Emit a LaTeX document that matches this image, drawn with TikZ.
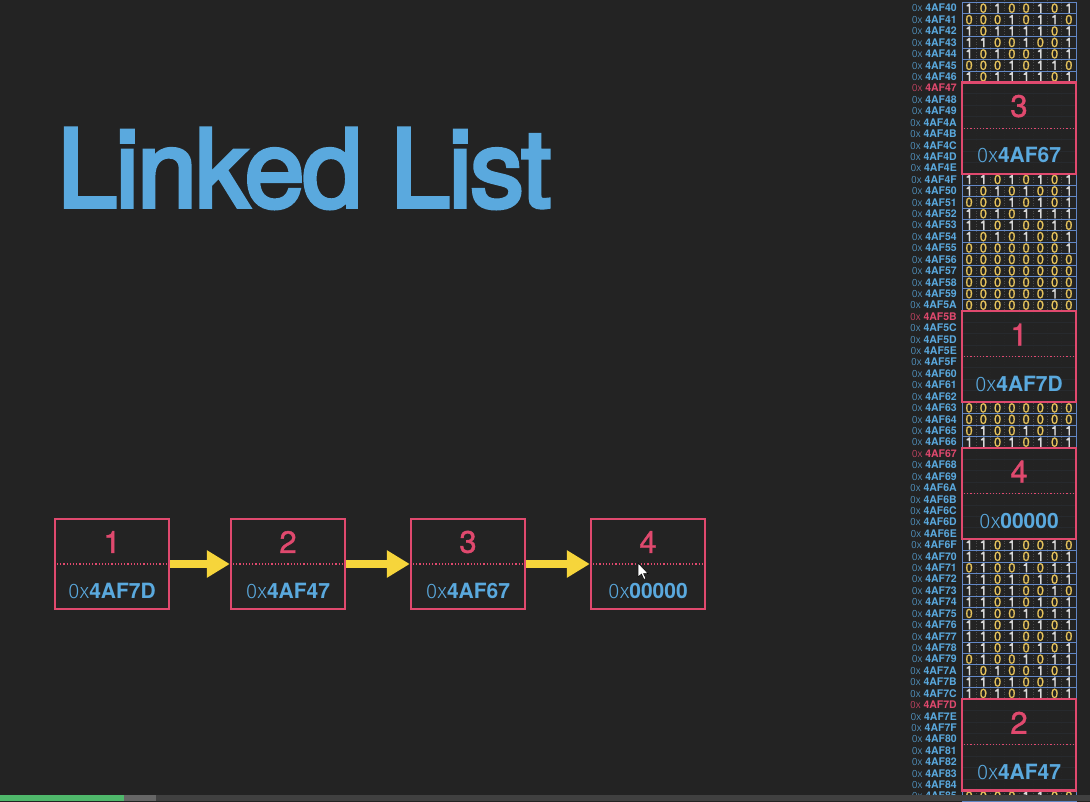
\documentclass[tikz,border=0pt]{standalone}
\usepackage{fontspec}
\setmainfont{TeX Gyre Heros}
\newfontfamily\lightfont{Fira Sans Light}
\newfontfamily\titlefont{TeX Gyre Heros}[LetterSpace=-2,FakeBold=3.5]
\newfontfamily\digitfont{TeX Gyre Heros}[FakeBold=1.2]
\usetikzlibrary{positioning,arrows.meta}

\definecolor{bg}{HTML}{232323}
\definecolor{pink}{HTML}{E0496E}
\definecolor{addrblue}{HTML}{5AA9DE}
\definecolor{arrowyellow}{HTML}{F6D53B}
\definecolor{rowblue}{HTML}{6287C6}
\definecolor{bit1}{HTML}{D9D9D9}
\definecolor{bit0}{HTML}{E6C35C}
\definecolor{lbl0}{HTML}{5AA9DE}
\definecolor{lbl1}{HTML}{E0496E}
\definecolor{bargreen}{HTML}{4FB86B}

\begin{document}
\begin{tikzpicture}[x=1pt,y=-1pt,
    cell/.style={draw=pink,line width=2.4pt,minimum width=114pt,minimum height=90pt,inner sep=0pt},
    digit/.style={text=pink,inner sep=0pt,font=\digitfont\fontsize{31}{31}\selectfont},
    addr/.style={text=addrblue,inner sep=0pt,font=\fontsize{21}{21}\selectfont},
    divider/.style={pink,dotted,line width=1.2pt},
    link/.style={arrowyellow,line width=8pt,-{Triangle[length=23pt,width=26pt]}},
    memlabel/.style={anchor=east,inner sep=0pt,font=\fontsize{10.5}{10.5}\selectfont},
    bitnum/.style={inner sep=0pt,font=\digitfont\fontsize{13}{13}\selectfont},
    rowline/.style={draw=rowblue,line width=0.9pt},
    sep/.style={gray!45!bg,dotted,line width=0.6pt}]
      \useasboundingbox (0,0) rectangle (1090,802);
      \clip (0,0) rectangle (1090,802);
      \fill[bg] (0,0) rectangle (1090,802);

      % title
      \node[anchor=base west,inner sep=0pt,text=addrblue,font=\titlefont\fontsize{108}{108}\selectfont] (title) at (57,207) {Linked List};

      % list
      \foreach \nm/\x/\num/\ad in {n1/112/1/4AF7D,n2/288/2/4AF47,n3/468/3/4AF67,n4/648/4/00000} {
        \node[cell] (\nm) at (\x,564) {};
        \node[digit] at ([yshift=22pt]\nm.center) {\num};
        \draw[divider] (\nm.west) -- (\nm.east);
        \node[addr] at ([yshift=-27pt]\nm.center) {{\lightfont 0x}\textbf{\ad}};
      }
      \draw[link] (n1) -- (n2);
      \draw[link] (n2) -- (n3);
      \draw[link] (n3) -- (n4);

      % memory column
      \foreach \k in {1,...,7}
        \draw[sep] ({962+14.25*\k},0) -- ({962+14.25*\k},802);
      \foreach \i in {0,...,69} {
        \pgfmathtruncatemacro\n{64+\i}
        \pgfmathdectoBase\h{\n}{16}
        \pgfmathtruncatemacro\isred{(\i==7)||(\i==27)||(\i==39)||(\i==61)}
        \draw[rowline] (962,{2.5+11.42*\i}) rectangle (1076,{13.92+11.42*\i});
        \node[memlabel,text=lbl\isred] at (957,{8.2+11.42*\i}) {{\lightfont 0x }\textbf{4AF\h}};
      }
      \foreach \i/\bits in {0/{1,0,1,0,0,1,0,1},1/{0,0,0,1,0,1,1,0},2/{1,0,1,1,1,1,0,1},
          3/{1,1,0,0,1,0,0,1},4/{1,0,1,0,0,1,0,1},5/{0,0,0,1,0,1,1,0},6/{1,0,1,1,1,1,0,1},
          15/{1,1,0,1,0,1,0,1},16/{1,0,1,0,1,0,0,1},17/{0,0,0,1,0,1,0,1},18/{1,0,1,0,1,1,1,1},
          19/{1,1,0,1,0,0,1,0},20/{1,0,1,0,1,0,0,1},21/{0,0,0,0,0,0,0,1},22/{0,0,0,0,0,0,0,0},
          23/{0,0,0,0,0,0,0,0},24/{0,0,0,0,0,0,0,0},25/{0,0,0,0,0,0,1,0},26/{0,0,0,0,0,0,0,0},
          35/{0,0,0,0,0,0,0,0},36/{0,0,0,0,0,0,0,0},37/{0,1,0,0,1,0,1,1},38/{1,1,0,1,0,1,0,1},
          47/{1,1,0,1,0,0,1,0},48/{1,1,0,1,0,1,0,1},49/{0,1,0,0,1,0,1,1},50/{1,1,0,1,0,1,0,1},
          51/{1,1,0,1,0,0,1,0},52/{1,1,0,1,0,1,0,1},53/{0,1,0,0,1,0,1,1},54/{1,1,0,1,0,1,0,1},
          55/{1,1,0,1,0,0,1,0},56/{1,1,0,1,0,1,0,1},57/{0,1,0,0,1,0,1,1},58/{1,0,1,0,0,1,0,1},
          59/{1,1,0,1,0,0,1,1},60/{1,0,1,0,1,1,0,1},69/{0,0,0,0,1,1,0,0}}
        \foreach \v [count=\k from 0] in \bits
          \node[bitnum,text=bit\v] at ({969.1+14.25*\k},{8.2+11.42*\i}) {\v};

      % nodes in memory
      \foreach \nm/\r/\num/\ad in {m3/7/3/4AF67,m1/27/1/4AF7D,m4/39/4/00000,m2/61/2/4AF47} {
        \node[cell,minimum height=91.4pt,fill=bg,fill opacity=0.93] (\nm) at (1019,{2.5+11.42*(\r+4)}) {};
        \node[digit] at ([yshift=22pt]\nm.center) {\num};
        \draw[divider] (\nm.west) -- (\nm.east);
        \node[addr] at ([yshift=-27pt]\nm.center) {{\lightfont 0x}\textbf{\ad}};
      }

      % pointer
      \filldraw[fill=white,draw=black,line width=0.5pt] (638,563) -- (638,577) -- (641.5,574)
        -- (644,579.5) -- (646,578.5) -- (643.5,573.5) -- (648,573.5) -- cycle;

      % progress bar
      \fill[bargreen] (0,795) rectangle (124,801);
      \fill[gray!80!black] (124,795) rectangle (156,801);
      \fill[black!75] (156,795) rectangle (1090,801);
    \end{tikzpicture}
\end{document}
